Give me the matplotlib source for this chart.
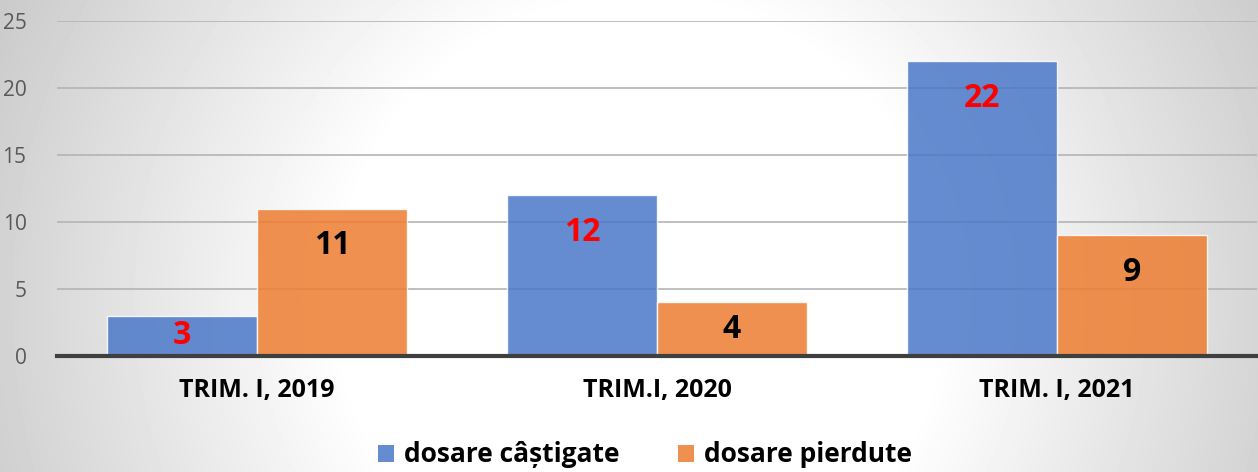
import numpy as np
import matplotlib
matplotlib.use("Agg")
import matplotlib.pyplot as plt
from matplotlib.patches import Patch

categories = ["TRIM. I, 2019", "TRIM.I, 2020", "TRIM. I, 2021"]
castigate = [3, 12, 22]
pierdute = [11, 4, 9]
series_names = ["dosare câștigate", "dosare pierdute"]
yticks = [0, 5, 10, 15, 20, 25]

blue = "#4a78c8"
orange = "#ed7d31"

plt.rcParams["font.family"] = ["Open Sans", "DejaVu Sans"]

W, H = 1258, 472
fig = plt.figure(figsize=(W / 100, H / 100), dpi=100)

# radial grey background, white near the middle
bg = fig.add_axes([0, 0, 1, 1], zorder=-10)
yy, xx = np.mgrid[0:H, 0:W]
r = np.hypot(xx - 640, (yy - 300) * 1.0)
t = np.clip((r - 300) / 430, 0, 1)
shade = 1.0 - t * (1.0 - 0.78)
bg.imshow(shade, cmap="gray", vmin=0, vmax=1, aspect="auto",
          extent=[0, 1, 0, 1], interpolation="bilinear")
bg.set_axis_off()

ax = fig.add_axes([57 / W, 1 - 356 / H, 1200 / W, 335 / H])
ax.patch.set_alpha(0)

x = np.arange(len(categories))
w = 0.375
b1 = ax.bar(x - w / 2, castigate, w, color=blue, alpha=0.85,
            edgecolor=(1, 1, 1, 0.6), linewidth=1, zorder=3)
b2 = ax.bar(x + w / 2, pierdute, w, color=orange, alpha=0.85,
            edgecolor=(1, 1, 1, 0.6), linewidth=1, zorder=3)

def label_y(v):
    return max(v - 2.75, v / 2)

for xi, v in zip(x - w / 2, castigate):
    ax.text(xi, label_y(v), str(v), ha="center", va="center",
            color="#ff0000", fontsize=23, fontweight="bold", zorder=5)
for xi, v in zip(x + w / 2, pierdute):
    ax.text(xi, label_y(v), str(v), ha="center", va="center",
            color="black", fontsize=23, fontweight="bold", zorder=5)

ax.set_xlim(-0.5, 2.5)
ax.set_ylim(0, 25)
ax.set_yticks(yticks)
ax.yaxis.grid(True, color="#b4b4b4", linewidth=1.2, zorder=1)
ax.set_axisbelow(True)
for s in ["top", "right", "left"]:
    ax.spines[s].set_visible(False)
ax.spines["bottom"].set_color("#3f3f3f")
ax.spines["bottom"].set_linewidth(3)
ax.spines["bottom"].set_zorder(6)
ax.tick_params(axis="y", length=0, labelsize=15, labelcolor="#595959", pad=22)
ax.tick_params(axis="x", length=0, pad=16)
ax.set_xticks(x)
ax.set_xticklabels(categories, fontsize=18, fontweight="bold", color="black")

handles = [Patch(facecolor=blue, alpha=0.85), Patch(facecolor=orange, alpha=0.85)]
fig.legend(handles, series_names, loc="center", bbox_to_anchor=(645 / W, 1 - 455 / H),
           ncol=2, frameon=False, prop={"weight": "bold", "size": 19},
           handlelength=0.6, handleheight=0.6, handletextpad=0.4, columnspacing=2.2)

fig.savefig("out.png", dpi=100)
